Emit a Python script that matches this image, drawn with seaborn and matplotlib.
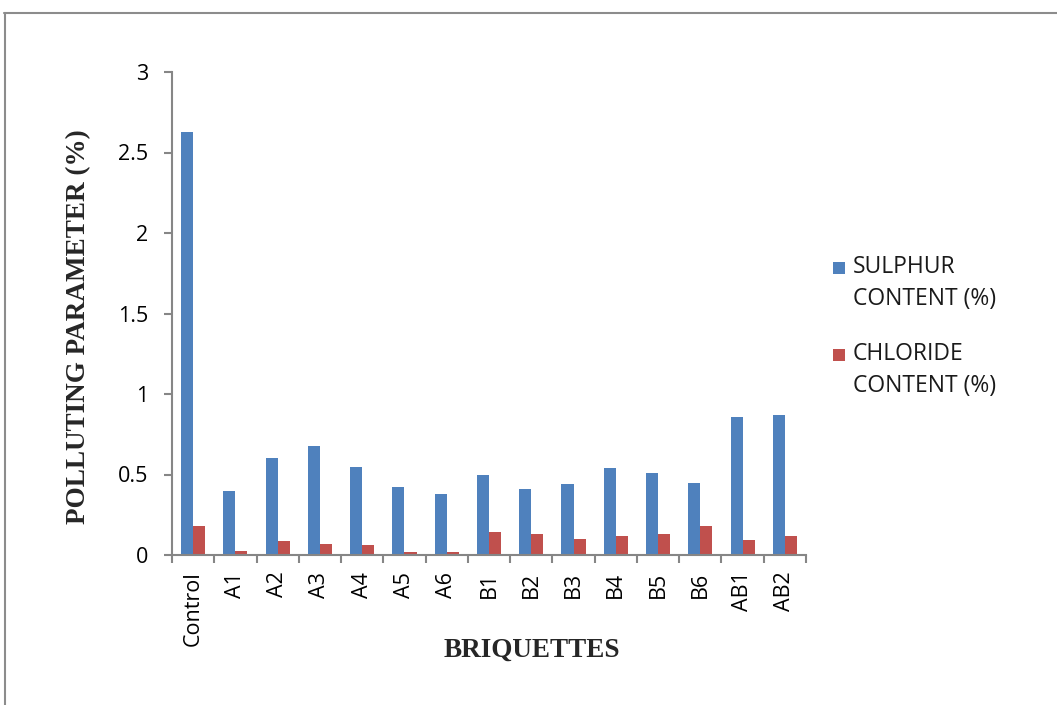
import matplotlib
matplotlib.use("Agg")
import matplotlib.pyplot as plt
from matplotlib.lines import Line2D
from matplotlib.patches import Rectangle
import numpy as np
import pandas as pd
import seaborn as sns

# Briquette samples and measured polluting parameters (%)
briquettes = ["Control", "A1", "A2", "A3", "A4", "A5", "A6",
              "B1", "B2", "B3", "B4", "B5", "B6", "AB1", "AB2"]
sulphur = [2.63, 0.40, 0.60, 0.68, 0.545, 0.42, 0.38,
           0.50, 0.41, 0.44, 0.54, 0.51, 0.45, 0.86, 0.87]
chloride = [0.18, 0.025, 0.09, 0.07, 0.06, 0.02, 0.02,
            0.14, 0.13, 0.10, 0.12, 0.13, 0.18, 0.095, 0.12]
series_names = ["SULPHUR\nCONTENT (%)", "CHLORIDE\nCONTENT (%)"]
colors = ["#4F81BD", "#C0504D"]

df = pd.concat([
    pd.DataFrame({"Briquette": briquettes, "Value": sulphur, "Parameter": series_names[0]}),
    pd.DataFrame({"Briquette": briquettes, "Value": chloride, "Parameter": series_names[1]}),
])

sns.set_style("white")
plt.rcParams["font.family"] = ["Open Sans", "DejaVu Sans"]

W, H = 1057, 705
fig = plt.figure(figsize=(W / 100, H / 100), dpi=100)
ax = fig.add_axes([172 / W, 1 - 555 / H, 634 / W, 483 / H])

sns.barplot(data=df, x="Briquette", y="Value", hue="Parameter",
            palette=colors, saturation=1, width=0.57, gap=0,
            edgecolor="none", errorbar=None, legend=False, ax=ax)

axis_gray = "#868686"
ax.set_xlim(-0.5, len(briquettes) - 0.5)
ax.set_ylim(0, 3)
ax.set_yticks(np.arange(0, 3.01, 0.5))
ax.set_yticklabels(["0", "0.5", "1", "1.5", "2", "2.5", "3"])
ax.set_xticks(range(len(briquettes)))
ax.set_xticklabels(briquettes, rotation=90)
ax.set_xticks(np.arange(-0.5, len(briquettes), 1.0), minor=True)

for side in ["top", "right"]:
    ax.spines[side].set_visible(False)
for side in ["left", "bottom"]:
    ax.spines[side].set_color(axis_gray)
    ax.spines[side].set_linewidth(1.5)

ax.tick_params(axis="x", which="major", length=0, pad=12, labelsize=15.5, colors="black")
ax.tick_params(axis="x", which="minor", length=6, width=1.5, color=axis_gray, direction="out", bottom=True)
ax.tick_params(axis="y", which="major", length=6, width=1.5, color=axis_gray,
               direction="out", left=True, pad=11, labelsize=15.5, labelcolor="black")

serif = ["Liberation Serif", "DejaVu Serif"]
ax.set_xlabel("BRIQUETTES", family=serif, fontweight="bold", fontsize=19.5)
ax.set_ylabel("POLLUTING PARAMETER (%)", family=serif, fontweight="bold", fontsize=19.5)
ax.xaxis.set_label_coords(0.568, -0.172)
ax.yaxis.set_label_coords(-0.128, 0.472)

# Legend: colour key beside the first line of each two-line entry
key_x, text_x = 833 / W, 853 / W
for name, color, y_px in zip(series_names, colors, [268, 355]):
    fig.add_artist(Rectangle((key_x, 1 - (y_px + 6) / H), 12 / W, 12 / H,
                             transform=fig.transFigure, facecolor=color, edgecolor="none"))
    fig.text(text_x, 1 - (y_px - 13) / H, name, ha="left", va="top",
             fontsize=16.5, linespacing=1.45, color="#1a1a1a")

# Outer frame lines along the top and left of the figure
fig.add_artist(Line2D([4 / W, 1], [1 - 13 / H, 1 - 13 / H],
                      transform=fig.transFigure, color="#8c8c8c", linewidth=1.5))
fig.add_artist(Line2D([5 / W, 5 / W], [0, 1 - 13 / H],
                      transform=fig.transFigure, color="#8c8c8c", linewidth=1.5))

fig.savefig("out.png", dpi=100, facecolor="white")
